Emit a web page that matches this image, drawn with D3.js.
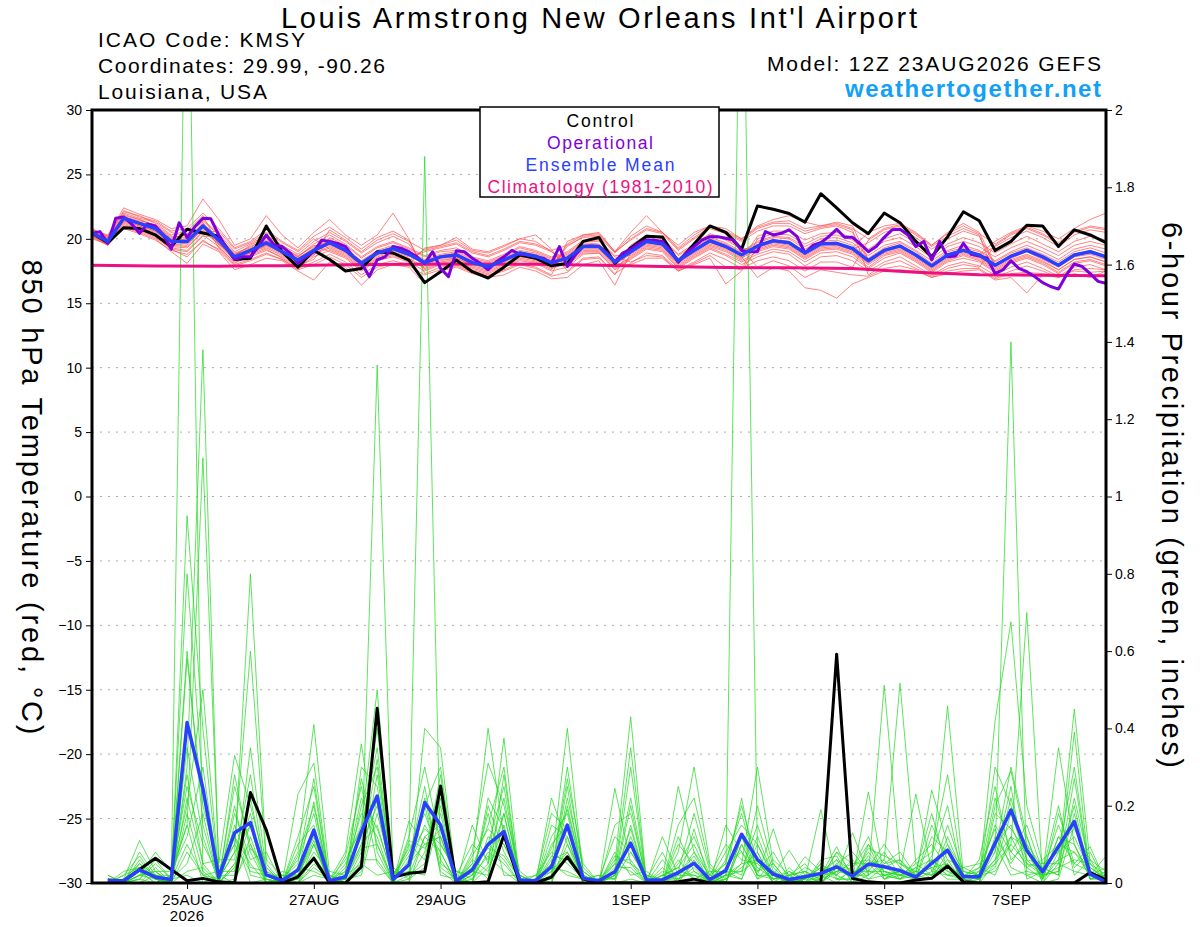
<!DOCTYPE html>
<html>
<head>
<meta charset="utf-8">
<script src="https://cdn.jsdelivr.net/npm/d3@7"></script>
<style>
  body { margin: 0; background: #fff; }
  text { font-family: "Liberation Sans", Arial, Helvetica, sans-serif; }
</style>
</head>
<body>
<div id="chart"></div>
<script>
// ---- data (12Z 23AUG2026 run) ----
const runStart = "2026-08-23T12:00:00Z";
const stepHours = 6;          // ensemble / control / mean
const opStepHours = 3;        // operational run
const climStepHours = 24;     // climatology

const tickDates = ["2026-08-25", "2026-08-27", "2026-08-29", "2026-09-01", "2026-09-03", "2026-09-05", "2026-09-07"];
const tickLabels = ["25AUG", "27AUG", "29AUG", "1SEP", "3SEP", "5SEP", "7SEP"];
const tempTicks = [-30, -25, -20, -15, -10, -5, 0, 5, 10, 15, 20, 25, 30];
const precipTicks = [0, 0.2, 0.4, 0.6, 0.8, 1, 1.2, 1.4, 1.6, 1.8, 2];

// 850 hPa temperature, hours 0..384 every 6 h
const controlTemp = [
  20.45, 19.7, 20.86, 20.8, 20.3, 19.4, 20.75, 20.45, 20.2, 18.4, 18.5, 21.0, 19.0, 17.8, 19.1, 18.4, 17.5, 17.7, 19.0, 18.9, 18.35, 16.6, 17.45, 18.35, 17.45,
  16.96, 17.8, 18.75, 18.5, 17.9, 18.1, 19.8, 20.1, 18.1, 19.3, 20.2, 20.15, 18.2, 19.6, 21.0, 20.5, 19.2, 22.55, 22.3, 21.97,
  21.3, 23.5, 22.4, 21.25, 20.4, 22.0, 21.25, 19.8, 18.6, 20.15, 22.1, 21.4, 19.1, 19.8, 21.05, 21.0, 19.4, 20.7, 20.3, 19.7
];
const meanTemp = [
  20.45, 19.8, 21.6, 21.2, 20.8, 19.8, 19.8, 21.0, 19.9, 18.6, 19.1, 19.7, 19.0, 18.35, 19.1, 19.7, 19.1, 18.1, 18.9, 19.25, 18.8, 18.15, 18.6, 18.75, 18.15,
  17.85, 18.35, 18.9, 18.65, 18.15, 18.5, 19.4, 19.4, 18.2, 19.0, 19.8, 19.6, 18.3, 19.1, 19.85, 19.4, 18.75, 19.45, 19.85, 19.7,
  18.9, 19.6, 19.65, 19.25, 18.3, 19.1, 19.45, 18.75, 17.9, 18.75, 19.1, 18.75, 17.95, 18.65, 19.1, 18.6, 17.95, 18.75, 19.0, 18.6
];
// operational, hours 0..384 every 3 h
const operationalTemp = [
  20.43, 20.56, 19.65, 21.6, 21.7, 21.15, 20.43, 21.15, 21.0, 20.3, 19.2, 21.25, 20.1, 20.95, 21.6, 21.55, 20.3, 19.27, 18.4, 18.6,
  18.6, 19.4, 20.3, 19.5, 19.4, 18.9, 18.1, 18.6, 19.0, 19.9, 19.8, 19.65, 19.4, 18.6, 18.15, 17.07, 18.36, 18.6, 19.4, 19.27,
  19.0, 18.6, 18.1, 19.0, 17.7, 17.07, 19.08, 19.0, 18.5, 18.1, 17.6, 18.2, 18.6, 19.1, 18.8, 18.75, 18.6, 18.5, 18.1, 19.4,
  17.85, 18.75, 19.4, 19.45, 19.4, 18.9, 18.2, 18.9, 19.2, 19.65, 19.9, 19.9, 19.8, 19.1, 18.2, 18.9, 19.4, 19.9, 20.17, 20.17,
  20.04, 19.9, 19.1, 19.0, 19.0, 20.56, 20.3, 20.43, 20.7, 20.17, 18.9, 19.5, 19.7, 20.17, 20.74, 20.12, 20.12, 19.6, 19.0, 19.4,
  20.12, 20.7, 20.74, 20.3, 19.4, 19.8, 18.36, 19.8, 18.6, 18.67, 19.65, 18.8, 18.67, 18.5, 17.3, 17.6, 18.3, 17.7, 17.45, 17.07,
  16.6, 16.3, 16.1, 17.2, 18.05, 17.85, 17.3, 16.7, 16.55
];
// 1981-2010 climatology, daily
const climatologyTemp = [17.95, 17.9, 17.88, 17.92, 17.98, 18.03, 18.05, 18.02, 17.95, 17.85, 17.78, 17.75, 17.7, 17.4, 17.22, 17.17, 17.14];

// ensemble members: one row per 6-h step (hour 0..384), 20 members per row
const tempMembersByStep = [
  [20.6,20.3,20.5,20.2,20.7,20.4,20.1,20.5,20.8,20.3,20.6,20.0,20.4,20.7,20.2,20.5,20.3,20.6,20.4,20.2],
  [19.9,19.6,20.1,19.7,20.3,19.8,19.5,20.0,20.2,19.7,19.9,19.6,19.8,20.2,19.6,20.0,19.7,20.1,19.9,19.5],
  [21.8,21.2,22.0,21.4,22.4,21.6,20.9,21.5,22.1,21.3,21.7,20.8,21.5,22.2,21.1,21.9,21.4,21.7,21.6,21.0],
  [21.5,20.8,21.6,21.0,21.9,21.3,20.5,21.2,21.8,20.9,21.4,20.4,21.1,21.7,20.7,21.5,21.0,21.3,21.2,20.6],
  [21.0,20.3,21.3,20.6,21.5,20.9,20.0,20.7,21.2,20.5,21.1,19.9,20.8,21.4,20.2,21.0,20.6,20.9,20.7,20.1],
  [20.0,19.2,20.5,19.6,20.8,19.9,19.0,19.7,20.3,19.4,20.2,19.1,19.8,20.6,19.3,20.1,19.5,19.9,19.7,19.2],
  [20.4,19.0,20.2,19.5,21.0,20.0,18.1,19.8,20.6,19.3,20.1,18.8,19.6,20.8,19.1,20.3,19.4,20.0,19.9,18.6],
  [21.3,20.2,21.5,20.8,23.1,21.0,19.6,20.9,21.8,20.5,21.2,19.8,20.7,22.0,20.3,21.4,20.6,21.1,21.0,19.9],
  [19.3,20.2,20.4,19.7,21.5,19.9,19.0,19.8,19.5,20.6,20.1,19.2,19.6,20.8,19.4,20.3,19.6,20.0,19.9,19.1],
  [18.2,18.8,19.0,18.5,19.5,18.6,17.6,18.4,18.3,19.2,18.9,18.0,18.5,19.3,18.1,18.7,18.4,18.8,18.6,17.9],
  [18.6,19.4,19.6,18.9,20.0,19.2,18.0,19.0,18.8,19.7,19.3,18.4,19.0,19.8,18.7,19.5,18.9,19.2,19.1,18.3],
  [19.1,20.0,20.3,19.5,21.8,19.8,18.5,19.6,19.3,20.5,20.1,18.9,19.5,20.7,19.2,20.2,19.4,19.9,19.8,18.8],
  [18.6,19.2,19.5,18.9,20.3,19.1,18.3,18.9,18.7,19.7,19.3,18.4,19.0,19.8,18.5,19.4,18.8,19.1,19.0,18.4],
  [17.9,18.6,18.8,18.2,19.3,18.4,17.5,18.3,18.1,19.0,18.7,17.7,18.3,19.1,17.8,18.6,18.2,18.5,18.4,17.6],
  [18.4,19.5,19.8,18.9,20.5,19.2,16.8,19.0,18.7,20.0,19.4,18.2,19.1,20.2,18.6,19.6,18.8,19.3,19.2,18.0],
  [20.1,19.0,20.5,19.4,21.5,19.8,18.2,19.6,20.7,19.2,20.0,18.8,19.5,20.9,19.1,20.3,19.3,19.9,19.8,18.6],
  [19.5,18.5,19.8,18.9,20.3,19.2,17.8,19.0,19.9,18.7,19.3,18.2,19.0,20.1,18.6,19.6,18.8,19.2,19.1,18.0],
  [18.5,17.5,18.9,17.9,19.5,18.2,16.4,18.0,19.0,17.7,18.3,17.2,18.0,19.2,17.6,18.6,17.8,18.2,18.1,17.0],
  [19.3,18.3,19.7,18.7,20.3,19.0,17.6,18.8,19.9,18.5,19.1,18.0,18.8,20.1,18.4,19.4,18.6,19.0,18.9,17.8],
  [19.7,18.6,20.2,19.0,22.0,19.3,18.0,19.1,20.4,18.8,19.5,18.3,19.2,20.6,18.7,19.8,18.9,19.4,19.3,18.1],
  [19.2,18.2,19.6,18.6,20.0,18.9,17.8,18.7,19.8,18.4,19.0,18.0,18.8,19.9,18.3,19.3,18.5,18.9,18.8,17.9],
  [18.6,17.5,17.9,19.0,17.3,18.2,16.5,18.0,19.1,17.7,18.4,19.3,18.1,17.6,19.2,18.7,17.8,18.3,18.2,17.2],
  [19.0,18.0,18.4,19.3,17.8,18.7,17.5,18.5,19.4,18.2,18.8,19.5,18.6,18.1,19.5,19.1,18.3,18.7,18.6,17.6],
  [19.1,18.2,18.5,19.6,18.0,18.8,17.8,18.6,19.7,18.4,19.0,20.1,18.7,18.3,19.9,19.3,18.5,18.9,18.8,17.9],
  [18.5,17.6,18.0,18.9,17.5,18.2,17.3,18.1,19.0,17.8,18.4,19.2,18.1,17.7,19.1,18.6,17.9,18.3,18.2,17.4],
  [18.2,17.3,17.7,18.6,17.2,17.9,17.0,17.8,18.7,17.5,18.1,19.0,17.8,17.4,18.9,18.3,17.6,18.0,17.9,17.1],
  [18.7,17.8,18.2,19.1,17.6,18.4,17.2,18.3,19.2,18.0,18.6,19.5,18.3,17.9,19.4,18.8,18.1,18.5,18.4,17.5],
  [19.3,18.3,18.7,19.7,18.1,19.0,17.8,18.8,19.8,18.5,19.1,20.0,18.9,18.4,20.0,19.4,18.6,19.0,18.9,18.0],
  [19.0,18.1,18.5,19.5,17.8,18.7,17.5,18.6,19.6,18.3,18.9,20.3,18.6,18.2,19.8,19.1,18.4,18.8,18.7,17.7],
  [18.5,17.5,17.9,19.0,17.2,18.2,16.9,18.0,19.1,17.7,18.4,19.2,18.1,17.6,19.0,18.6,17.8,18.3,18.2,17.1],
  [18.9,17.8,19.4,18.3,19.8,18.6,17.0,18.4,19.5,18.1,18.8,17.5,18.5,19.6,18.0,19.0,18.2,18.7,18.5,17.4],
  [19.8,18.8,20.2,19.2,20.3,19.5,18.0,19.3,20.1,19.0,19.7,18.5,19.4,20.3,18.9,19.9,19.1,19.6,19.4,18.4],
  [19.8,18.9,20.3,19.2,20.5,19.5,18.3,19.3,20.2,19.0,19.6,18.6,19.4,20.4,18.9,19.9,19.1,19.5,19.4,18.5],
  [18.6,17.6,19.0,18.0,19.0,18.3,16.4,18.1,18.9,17.8,18.4,17.3,18.2,19.0,17.7,18.7,17.9,18.3,18.2,17.2],
  [18.2,18.4,19.9,18.8,20.5,19.1,18.9,18.0,20.0,18.6,19.2,18.1,19.0,20.2,18.5,18.7,19.5,19.1,19.0,19.4],
  [18.7,19.2,20.7,19.6,21.8,19.9,19.7,18.5,20.8,19.4,20.0,18.9,19.8,21.0,19.3,19.5,20.3,19.9,19.8,20.2],
  [18.6,19.0,20.4,19.4,20.5,19.7,19.5,18.5,20.5,19.2,19.8,18.7,19.6,20.5,19.1,19.3,20.1,19.7,19.6,20.0],
  [17.5,17.7,19.1,18.1,19.5,18.4,18.2,17.5,19.2,17.9,18.5,17.6,18.3,19.3,17.8,18.0,18.8,18.4,18.3,18.7],
  [18.1,18.5,20.0,18.9,20.5,19.2,19.0,18.0,20.1,18.7,19.3,18.2,19.1,20.3,18.6,18.8,19.6,19.2,19.1,19.5],
  [18.7,19.2,20.8,19.6,21.0,19.9,19.7,18.5,20.9,19.4,20.1,18.9,19.8,21.0,19.3,19.5,20.4,20.0,19.8,20.3],
  [17.8,18.7,20.4,19.2,20.8,19.5,19.3,16.5,20.5,19.0,19.7,18.4,19.4,20.6,18.8,19.1,20.0,19.6,19.4,19.9],
  [17.6,18.0,19.8,18.5,20.0,18.8,18.6,17.5,19.9,18.3,19.0,17.7,18.7,20.0,18.2,18.4,19.3,18.9,18.7,19.2],
  [20.0,18.6,20.6,19.2,21.0,19.5,17.0,19.3,20.8,19.0,19.8,18.3,19.4,20.9,18.8,20.2,19.1,19.7,19.5,17.8],
  [20.4,19.0,21.0,19.6,21.5,19.9,17.8,19.7,21.2,19.4,20.2,18.6,19.8,21.3,19.2,20.6,19.5,20.1,19.9,18.3],
  [20.3,18.8,21.0,19.4,21.8,19.8,17.5,19.5,21.2,19.2,20.1,18.3,19.7,21.4,19.0,20.6,19.3,20.0,19.8,17.9],
  [19.6,17.9,20.4,18.6,21.3,19.0,16.2,18.7,20.6,18.4,19.4,17.5,18.9,20.8,18.2,19.9,18.5,19.2,19.0,17.0],
  [20.2,18.6,20.8,19.3,21.0,19.7,16.0,19.4,20.9,19.1,20.0,18.2,19.6,21.0,18.9,20.4,19.2,19.8,19.6,17.6],
  [20.3,18.7,21.0,19.4,21.3,19.7,15.4,19.5,21.1,19.2,20.1,18.2,19.6,21.2,19.0,20.5,19.3,19.9,19.7,17.4],
  [19.9,18.3,20.5,19.0,21.0,19.3,16.5,19.1,20.7,18.8,19.7,17.8,19.2,20.8,18.6,20.1,18.9,19.5,19.3,17.2],
  [19.0,17.5,18.3,18.1,18.4,20.5,17.0,18.2,17.2,17.8,18.7,19.9,19.7,20.0,17.7,19.2,18.0,18.5,18.3,17.1],
  [19.8,18.2,19.1,18.9,19.2,21.0,17.5,19.0,18.0,18.7,19.5,20.7,20.5,20.8,18.5,20.0,18.8,19.3,19.1,17.7],
  [20.1,18.6,19.4,19.2,19.5,21.2,17.6,19.3,18.3,19.0,19.8,21.0,20.8,21.1,18.9,20.4,19.1,19.7,19.5,17.9],
  [19.4,17.9,18.7,18.5,18.8,20.5,17.5,18.6,17.7,18.3,19.1,20.3,20.1,20.4,18.2,19.7,18.4,19.0,18.8,17.6],
  [18.5,17.2,17.9,17.7,18.0,19.5,17.0,17.8,17.1,17.5,18.3,19.4,19.2,19.5,17.4,18.8,17.6,18.1,17.9,17.0],
  [19.4,17.9,18.7,18.5,18.8,20.5,17.3,18.6,17.7,18.3,19.1,20.2,20.0,20.4,18.2,19.6,18.4,19.0,18.8,17.5],
  [19.8,18.2,19.1,18.9,19.2,21.2,17.5,19.0,18.0,18.7,19.5,20.8,20.6,21.0,18.5,20.1,18.8,19.3,19.1,17.7],
  [19.4,17.9,18.7,18.5,18.8,20.5,17.6,18.6,17.8,18.3,19.1,20.3,20.2,20.4,18.2,19.7,18.4,19.0,18.8,17.7],
  [18.6,17.2,19.4,17.7,19.8,18.0,16.8,17.8,19.5,17.5,18.3,17.0,17.9,19.6,17.4,18.9,17.6,18.2,18.0,16.9],
  [19.3,17.8,20.1,18.4,20.5,18.7,17.0,18.5,20.3,18.2,19.0,17.5,18.6,20.4,18.1,19.6,18.3,18.9,18.7,17.3],
  [19.8,18.2,20.6,18.8,21.0,19.2,15.8,19.0,20.8,18.6,19.5,17.9,19.1,20.9,18.5,20.2,18.7,19.3,19.1,17.4],
  [19.3,17.7,20.1,18.3,20.6,18.7,17.2,18.4,20.3,18.1,19.0,17.5,18.6,20.4,18.0,19.6,18.2,18.8,18.6,17.3],
  [18.7,17.1,19.4,17.6,20.0,18.0,17.0,17.8,19.6,17.4,18.4,17.0,17.9,19.7,17.3,19.0,17.6,18.2,18.0,17.1],
  [19.5,17.8,20.3,18.4,20.8,18.8,17.3,18.6,20.5,18.2,19.2,17.6,18.7,20.6,18.1,19.8,18.4,19.0,18.8,17.5],
  [19.8,18.0,20.7,18.6,21.5,19.1,17.0,18.8,20.9,18.4,19.5,17.7,19.0,21.0,18.3,20.2,18.6,19.3,19.0,17.4],
  [19.5,17.6,20.5,18.2,22.0,18.7,17.5,18.4,20.7,18.0,19.2,17.6,18.6,20.8,17.9,19.9,18.2,18.9,18.6,17.5]
];

// 6-hour precipitation (inches), hours 6..384 every 6 h
const controlPrecip = [
  0.008, 0.006, 0.035, 0.064, 0.035, 0.006, 0.012, 0.003, 0, 0.234, 0.137, 0, 0.016, 0.064, 0, 0, 0.042, 0.452, 0.015, 0.025, 0.029, 0.251, 0, 0,
  0.003, 0.124, 0, 0, 0.015, 0.068, 0.01, 0, 0, 0, 0, 0, 0.003, 0.01, 0, 0, 0, 0, 0, 0,
  0, 0, 0.592, 0.012, 0.003, 0, 0, 0.008, 0.012, 0.044, 0.003, 0, 0, 0, 0, 0, 0, 0, 0.027, 0.008
];
const meanPrecip = [
  0.006, 0.006, 0.034, 0.015, 0.009, 0.415, 0.245, 0.015, 0.13, 0.156, 0.021, 0.006, 0.034, 0.137, 0.006, 0.016, 0.133, 0.225, 0.009, 0.047, 0.208, 0.15, 0.006, 0.034,
  0.10, 0.133, 0.008, 0.006, 0.042, 0.15, 0.012, 0.006, 0.029, 0.103, 0.008, 0.008, 0.027, 0.051, 0.009, 0.032, 0.126, 0.061, 0.023, 0.009,
  0.016, 0.025, 0.042, 0.018, 0.049, 0.042, 0.032, 0.015, 0.051, 0.085, 0.016, 0.016, 0.103, 0.189, 0.084, 0.029, 0.094, 0.159, 0.023, 0.003
];
const precipMembersByStep = [
  [0.02,0,0.01,0,0,0.01,0,0,0.02,0,0,0,0.01,0,0,0,0,0.01,0,0],
  [0,0.01,0,0.02,0,0,0.01,0,0,0,0.03,0,0,0.01,0,0,0.02,0,0,0],
  [0.05,0.11,0.02,0.04,0.01,0.08,0.03,0,0.06,0.02,0.04,0.01,0.03,0.05,0,0.02,0.07,0.01,0.03,0.02],
  [0.02,0.03,0.08,0.01,0.06,0.02,0,0.04,0.01,0.03,0.02,0.05,0,0.01,0.02,0.03,0.01,0,0.02,0.01],
  [0.01,0,0.03,0,0.01,0.02,0.01,0,0,0.03,0,0.01,0.02,0,0.01,0,0,0.02,0.01,0],
  [2.7,0.3,0.15,0.95,0.8,0.2,0.6,0.58,0.35,0.12,0.28,0.05,0.25,0.18,0.1,0.22,0.08,0.15,0.02,0.03],
  [0.02,1.38,1.1,0.4,0.25,0.5,0.15,0.2,0.12,0.3,0.05,0.18,0.1,0.03,0.02,0.05,0.02,0,0,0.04],
  [0,0.03,0.05,0.01,0,0.02,0,0.04,0,0.01,0.06,0,0.02,0,0.03,0,0.01,0,0.02,0],
  [0.05,0.12,0.33,0.08,0.2,0.02,0.28,0.1,0.04,0.25,0.06,0.15,0,0.18,0.03,0.12,0.08,0.01,0.1,0.05],
  [0.1,0.05,0.2,0.8,0.02,0.35,0.08,0.6,0.15,0.1,0.28,0.04,0.12,0.06,0.22,0,0.15,0.09,0.03,0.18],
  [0.02,0,0.04,0.06,0.01,0.03,0,0.05,0.02,0,0.01,0.03,0,0.08,0.02,0.01,0,0.04,0.02,0],
  [0,0.01,0,0.02,0,0,0.01,0,0,0.03,0,0.01,0,0,0.02,0,0.01,0,0,0.01],
  [0.03,0,0.08,0.02,0.23,0,0.05,0.01,0.1,0.02,0,0.06,0.03,0.12,0,0.04,0.01,0.07,0,0.02],
  [0.21,0.05,0.41,0.1,0.31,0.02,0.27,0.08,0.15,0.12,0.04,0.18,0.06,0.25,0.1,0.03,0.14,0.2,0.07,0.11],
  [0,0.01,0.02,0,0,0.01,0,0.03,0,0,0.01,0,0.02,0,0,0.01,0,0,0.01,0],
  [0.02,0.08,0,0.01,0.05,0.03,0,0.02,0.07,0,0.01,0.04,0,0.02,0.01,0.06,0,0.03,0,0.01],
  [0.1,0.36,0.05,0.2,0.15,0.27,0.03,0.12,0.25,0.08,0.02,0.18,0.3,0.05,0.1,0.14,0.06,0.22,0.04,0.09],
  [0.15,0.08,1.34,0.3,0.5,0.1,0.22,0.4,0.05,0.32,0.18,0.12,0.25,0.02,0.2,0.35,0.06,0.14,0.28,0.1],
  [0.01,0,0.03,0.02,0,0.01,0,0.04,0,0.01,0.02,0,0,0.03,0,0.01,0,0.02,0,0],
  [0.05,0.16,0.02,0.09,0,0.04,0.12,0.01,0.06,0.03,0.08,0,0.1,0.02,0.05,0.07,0.01,0.03,0.11,0.02],
  [0.2,0.1,0.05,1.88,0.4,0.15,0.3,0.08,0.25,0.02,0.18,0.12,0.06,0.22,0.1,0.14,0.04,0.2,0.09,0.12],
  [0.3,0.12,0.2,0.05,0.35,0.08,0.1,0.25,0.02,0.18,0.06,0.15,0.28,0.04,0.12,0.1,0.22,0.03,0.14,0.08],
  [0,0.01,0,0.02,0,0,0.03,0,0.01,0,0,0.02,0,0.01,0,0.03,0,0,0.01,0],
  [0.02,0.05,0.15,0,0.03,0.08,0.01,0.04,0,0.06,0.02,0.1,0.03,0,0.05,0.02,0.07,0.01,0.04,0],
  [0.1,0.4,0.05,0.2,0.02,0.31,0.08,0.15,0.12,0.03,0.18,0.06,0.1,0.22,0.01,0.07,0.14,0.05,0.09,0.04],
  [0.25,0.12,0.375,0.08,0.18,0.2,0.05,0.3,0.1,0.15,0.02,0.22,0.06,0.14,0.28,0.03,0.1,0.18,0.07,0.12],
  [0,0.02,0,0.01,0,0.03,0,0,0.01,0,0.02,0,0,0.01,0,0,0.02,0,0.01,0],
  [0.01,0,0,0.02,0,0,0.01,0,0,0.01,0,0,0.02,0,0,0.01,0,0,0,0.01],
  [0.05,0.22,0.02,0.08,0.03,0.1,0,0.06,0.15,0.01,0.04,0.12,0,0.07,0.02,0.18,0.05,0,0.09,0.03],
  [0.4,0.1,0.3,0.05,0.27,0.15,0.2,0.08,0.12,0.22,0.03,0.18,0.1,0.06,0.25,0.14,0.02,0.12,0.19,0.08],
  [0.02,0,0.03,0.01,0.05,0,0.02,0.01,0,0.04,0.01,0,0.02,0.01,0,0.03,0.01,0,0.02,0],
  [0,0.01,0,0.02,0,0,0,0.01,0,0,0.02,0,0,0,0.01,0,0,0.01,0,0],
  [0.02,0.05,0.245,0.01,0.03,0.08,0,0.12,0.02,0.04,0.01,0.06,0.15,0,0.03,0.02,0.05,0.01,0.07,0.02],
  [0.1,0.43,0.05,0.2,0.35,0.02,0.15,0.08,0.3,0.04,0.12,0.06,0.18,0.01,0.1,0.22,0.03,0.08,0.05,0.14],
  [0.01,0,0.02,0,0,0.03,0,0.01,0,0,0.02,0,0.01,0,0,0.01,0,0.02,0,0],
  [0,0.02,0,0.12,0.01,0,0.04,0,0.02,0.06,0,0.01,0,0.03,0,0.08,0,0.01,0.02,0],
  [0.05,0.01,0.08,0.02,0.25,0.03,0,0.1,0.04,0.01,0.15,0,0.06,0.02,0.03,0,0.12,0.01,0.04,0.02],
  [0.12,0.04,0.3,0.02,0.08,0.18,0.01,0.05,0.1,0.03,0.22,0.06,0.01,0.08,0.02,0.14,0.03,0.05,0.01,0.07],
  [0.02,0,0.05,0.01,0,0.03,0,0.02,0.01,0,0.04,0,0.01,0.02,0,0,0.01,0,0.03,0],
  [0.05,0.02,0,0.08,0.01,0.03,0.15,0,0.02,0.06,0.01,0.04,0,0.1,0.02,0.01,0.05,0.03,0,0.02],
  [0.2,0.05,0.1,0.15,2.7,0.03,0.08,0.12,0.01,0.18,0.05,0.02,0.1,0.06,0.22,0.04,0.08,0.01,0.12,0.03],
  [0.05,0.3,0.02,0.1,0.08,0.15,0.01,0.04,0.12,0.03,0.06,0.2,0.02,0.05,0.01,0.08,0.03,0.1,0.02,0.06],
  [0.01,0.05,0.14,0.02,0,0.03,0.06,0.01,0.02,0.08,0,0.04,0.01,0.02,0.03,0,0.05,0.01,0.02,0],
  [0.02,0,0.01,0.085,0.01,0,0.02,0.03,0,0.01,0.04,0,0.02,0,0.01,0.03,0,0.02,0,0.01],
  [0.03,0.01,0,0.02,0.068,0.01,0.03,0,0.02,0.04,0,0.01,0.05,0,0.02,0.01,0.03,0,0.01,0.02],
  [0.01,0.04,0.02,0,0.03,0.19,0.01,0.05,0,0.02,0.06,0.01,0,0.03,0.02,0.04,0,0.01,0.05,0.02],
  [0.05,0.02,0.094,0.03,0.06,0.01,0.08,0.02,0.04,0,0.07,0.03,0.05,0.01,0.06,0.02,0.04,0.08,0.01,0.03],
  [0.02,0.13,0.01,0.05,0,0.03,0.02,0.06,0.01,0.04,0,0.02,0.08,0.01,0.03,0,0.02,0.05,0.01,0.04],
  [0.08,0.02,0.236,0.05,0.1,0.03,0.06,0.01,0.04,0.12,0.02,0.07,0.03,0.09,0.01,0.05,0.02,0.06,0.03,0.1],
  [0.03,0.512,0.02,0.06,0.01,0.08,0.04,0.02,0.1,0.01,0.05,0.03,0.02,0.07,0.04,0.01,0.06,0.02,0.03,0.05],
  [0.02,0.05,0.01,0.517,0.03,0.02,0.06,0.01,0.04,0.02,0.08,0.01,0.03,0.05,0.02,0.04,0.01,0.03,0.02,0.06],
  [0.01,0.03,0.02,0.05,0.23,0.01,0.02,0.04,0.01,0.03,0.02,0.06,0.01,0.02,0.05,0.01,0.03,0.02,0.04,0.01],
  [0.05,0.02,0.24,0.08,0.03,0.15,0.01,0.06,0.12,0.02,0.04,0.1,0.03,0.05,0.02,0.07,0.18,0.04,0.01,0.06],
  [0.458,0.05,0.1,0.28,0.02,0.06,0.12,0.03,0.08,0.15,0.01,0.04,0.1,0.02,0.06,0.2,0.03,0.05,0.08,0.02],
  [0.02,0,0.03,0.01,0.04,0,0.02,0.01,0,0.03,0.01,0.02,0,0.01,0.04,0,0.02,0.01,0,0.02],
  [0.03,0.01,0.02,0,0.05,0.02,0.01,0.04,0,0.02,0.06,0.01,0.03,0,0.02,0.01,0.04,0,0.02,0.01],
  [0.1,0.42,0.05,0.2,0.08,0.15,0.3,0.02,0.12,0.06,0.25,0.04,0.1,0.18,0.03,0.08,0.14,0.05,0.22,0.06],
  [0.15,0.676,0.1,0.29,1.4,0.08,0.2,0.12,0.05,0.25,0.06,0.18,0.02,0.14,0.1,0.3,0.04,0.22,0.08,0.12],
  [0.05,0.2,0.7,0.1,0.02,0.15,0.08,0.04,0.12,0.01,0.1,0.06,0.03,0.08,0.05,0.12,0.02,0.06,0.04,0.09],
  [0.02,0.05,0.01,0.04,0,0.03,0.02,0.06,0.01,0.03,0,0.05,0.02,0.01,0.04,0,0.03,0.02,0.01,0.03],
  [0.35,0.05,0.12,0.02,0.08,0.2,0.03,0.1,0.06,0.15,0.01,0.08,0.04,0.12,0.02,0.05,0.1,0.03,0.18,0.06],
  [0.1,0.45,0.05,0.39,0.12,0.02,0.27,0.08,0.2,0.04,0.15,0.3,0.06,0.1,0.22,0.03,0.14,0.18,0.05,0.08],
  [0.02,0.05,0.094,0.01,0.03,0.06,0.02,0.04,0.01,0.08,0.03,0.02,0.05,0.01,0.04,0.02,0.06,0.01,0.03,0.02],
  [0.01,0.02,0,0.03,0.01,0,0.07,0.01,0.02,0,0.01,0.04,0,0.02,0.01,0,0.03,0.01,0,0.02]
];

const legendItems = [
  { label: "Control", color: "#000000", len: 67 },
  { label: "Operational", color: "#7f00df", len: 106 },
  { label: "Ensemble Mean", color: "#2a40ff", len: 149 },
  { label: "Climatology (1981-2010)", color: "#ee0f80", len: 225 }
];

// ---- layout ----
const W = 1200, H = 927;
const plot = { left: 92, right: 1106, top: 110, bottom: 883 };

const svg = d3.select("#chart").append("svg")
  .attr("width", W)
  .attr("height", H)
  .style("background", "#fff");

const t0 = new Date(runStart);
const hourDate = (h) => d3.utcHour.offset(t0, h);

const x = d3.scaleUtc()
  .domain([t0, hourDate(384)])
  .range([plot.left, plot.right]);
const yT = d3.scaleLinear().domain([-30, 30]).range([plot.bottom, plot.top]);
const yP = d3.scaleLinear().domain([0, 2]).range([plot.bottom, plot.top]);

svg.append("defs").append("clipPath").attr("id", "plot-clip")
  .append("rect")
  .attr("x", plot.left).attr("y", plot.top)
  .attr("width", plot.right - plot.left)
  .attr("height", plot.bottom - plot.top);

// dotted grid on the temperature ticks
svg.append("g")
  .selectAll("line")
  .data(tempTicks.filter((d) => d > -30 && d < 30))
  .join("line")
  .attr("x1", plot.left).attr("x2", plot.right)
  .attr("y1", (d) => yT(d)).attr("y2", (d) => yT(d))
  .attr("stroke", "#aaa")
  .attr("stroke-width", 1)
  .attr("stroke-dasharray", "2,6");

const chartArea = svg.append("g").attr("clip-path", "url(#plot-clip)");

const seriesLine = (scale, startHour, step) =>
  d3.line()
    .x((d, i) => x(hourDate(startHour + i * step)))
    .y((d) => scale(d));

const tempLine = seriesLine(yT, 0, stepHours);
const precipLine = seriesLine(yP, stepHours, stepHours);

const nMembers = tempMembersByStep[0].length;
const tempMembers = d3.range(nMembers).map((m) => tempMembersByStep.map((row) => row[m]));
const precipMembers = d3.range(nMembers).map((m) => precipMembersByStep.map((row) => row[m]));

chartArea.append("g")
  .selectAll("path")
  .data(tempMembers)
  .join("path")
  .attr("d", tempLine)
  .attr("fill", "none")
  .attr("stroke", "#ff4a4a")
  .attr("stroke-width", 0.8)
  .attr("stroke-opacity", 0.85);

chartArea.append("g")
  .selectAll("path")
  .data(precipMembers)
  .join("path")
  .attr("d", precipLine)
  .attr("fill", "none")
  .attr("stroke", "#22d822")
  .attr("stroke-width", 0.8)
  .attr("stroke-opacity", 0.9);

const thick = (data, gen, color, w) =>
  chartArea.append("path")
    .datum(data)
    .attr("d", gen)
    .attr("fill", "none")
    .attr("stroke", color)
    .attr("stroke-width", w)
    .attr("stroke-linejoin", "round");

thick(climatologyTemp, seriesLine(yT, 0, climStepHours), "#ee0f80", 3);
thick(controlPrecip, precipLine, "#000", 3);
thick(meanPrecip, precipLine, "#2a40ff", 3.5);
thick(controlTemp, tempLine, "#000", 3);
thick(operationalTemp, seriesLine(yT, 0, opStepHours), "#7f00df", 3);
thick(meanTemp, tempLine, "#2a40ff", 3.5);

// ---- axes ----
const axisLeft = svg.append("g")
  .attr("transform", `translate(${plot.left},0)`)
  .call(d3.axisLeft(yT).tickValues(tempTicks).tickSize(6).tickPadding(4));
const axisRight = svg.append("g")
  .attr("transform", `translate(${plot.right},0)`)
  .call(d3.axisRight(yP).tickValues(precipTicks).tickSize(6).tickPadding(3)
    .tickFormat((d) => d3.format("~g")(d)));
const axisBottom = svg.append("g")
  .attr("transform", `translate(0,${plot.bottom})`)
  .call(d3.axisBottom(x)
    .tickValues(tickDates.map((d) => new Date(d + "T00:00:00Z")))
    .tickFormat((d, i) => tickLabels[i])
    .tickSize(6).tickPadding(5));

[axisLeft, axisRight, axisBottom].forEach((g) => {
  g.select(".domain").remove();
  g.selectAll(".tick line").attr("stroke", "#000").attr("stroke-width", 1);
  g.selectAll(".tick text")
    .attr("fill", "#000")
    .style("font-size", "14px")
    .style("font-family", '"Liberation Sans", Arial, sans-serif');
});
axisBottom.selectAll(".tick text").style("font-size", "15px").style("letter-spacing", "0.3px");

axisBottom.append("text")
  .attr("x", x(new Date(tickDates[0] + "T00:00:00Z")))
  .attr("y", 38)
  .attr("text-anchor", "middle")
  .attr("fill", "#000")
  .style("font-size", "15px")
  .style("letter-spacing", "0.3px")
  .text("2026");

// frame
svg.append("rect")
  .attr("x", plot.left).attr("y", plot.top)
  .attr("width", plot.right - plot.left)
  .attr("height", plot.bottom - plot.top)
  .attr("fill", "none")
  .attr("stroke", "#000")
  .attr("stroke-width", 3);

// ---- titles ----
const label = (txt, xPos, yPos, size, opts = {}) => {
  const t = svg.append("text")
    .attr("x", xPos).attr("y", yPos)
    .attr("text-anchor", opts.anchor || "start")
    .attr("fill", opts.color || "#000")
    .style("font-size", size + "px")
    .style("font-weight", opts.bold ? "bold" : "normal")
    .text(txt);
  if (opts.len) t.attr("textLength", opts.len).attr("lengthAdjust", "spacing");
  if (opts.transform) t.attr("transform", opts.transform);
  return t;
};

label("Louis Armstrong New Orleans Int'l Airport", 599, 28, 29, { anchor: "middle", len: 636 });
label("ICAO Code: KMSY", 98, 47, 21, { len: 207 });
label("Coordinates: 29.99, -90.26", 98, 73, 21, { len: 287 });
label("Louisiana, USA", 98, 99, 21, { len: 169 });
label("Model: 12Z 23AUG2026 GEFS", 1101, 71, 21, { anchor: "end", len: 334 });
label("weathertogether.net", 1101, 97, 24, { anchor: "end", bold: true, color: "#13a0f7", len: 256 });

svg.append("text")
  .attr("transform", "translate(22,497) rotate(90)")
  .attr("text-anchor", "middle")
  .attr("fill", "#000")
  .style("font-size", "29px")
  .attr("textLength", 475)
  .attr("lengthAdjust", "spacing")
  .text("850 hPa Temperature (red, \u00B0C)");

svg.append("text")
  .attr("transform", "translate(1162,495) rotate(90)")
  .attr("text-anchor", "middle")
  .attr("fill", "#000")
  .style("font-size", "29px")
  .attr("textLength", 546)
  .attr("lengthAdjust", "spacing")
  .text("6-hour Precipitation (green, inches)");

// ---- legend ----
const legend = svg.append("g");
legend.append("rect")
  .attr("x", 480).attr("y", 107)
  .attr("width", 239).attr("height", 90)
  .attr("fill", "#fff")
  .attr("stroke", "#000")
  .attr("stroke-width", 1.5);
legend.selectAll("text")
  .data(legendItems)
  .join("text")
  .attr("x", 600)
  .attr("y", (d, i) => 127 + i * 22)
  .attr("text-anchor", "middle")
  .attr("fill", (d) => d.color)
  .attr("textLength", (d) => d.len)
  .attr("lengthAdjust", "spacing")
  .style("font-size", "17.5px")
  .text((d) => d.label);
</script>
</body>
</html>
